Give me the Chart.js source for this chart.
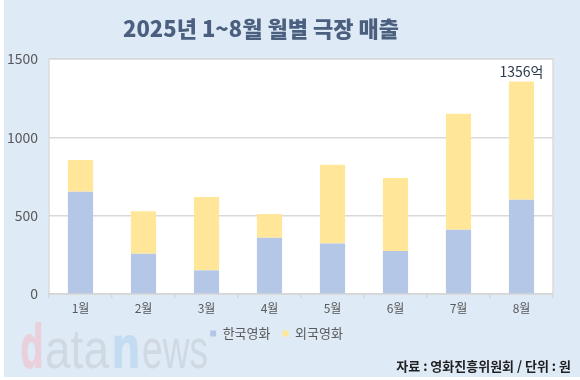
<!DOCTYPE html>
<html>
<head>
<meta charset="utf-8">
<script src="https://cdn.jsdelivr.net/npm/chart.js@4/dist/chart.umd.min.js"></script>
<style>
  html, body { margin: 0; padding: 0; background: #ffffff; }
  #wrap { width: 580px; height: 380px; position: relative; }
</style>
</head>
<body>
<div id="wrap"><canvas id="c" width="580" height="380"></canvas></div>
<script>
// ---- data ----
const categories = ['1월', '2월', '3월', '4월', '5월', '6월', '7월', '8월'];
const koreanFilm = [653, 257, 151, 359, 323, 274, 410, 602];
const foreignFilm = [202, 271, 468, 151, 502, 466, 741, 754];
const seriesNames = ['한국영화', '외국영화'];
const yTicks = [0, 500, 1000, 1500];
const titleText = '2025년 1~8월 월별 극장 매출';
const sourceText = '자료 : 영화진흥위원회 / 단위 : 원';
const annotUnit = '억';

const KR = '"Noto Sans CJK KR", "Noto Sans", sans-serif';
const BG = '#deeaf6';

function fitText(ctx, text, x, w, baseline, font, color) {
  ctx.save();
  ctx.font = font;
  ctx.fillStyle = color;
  ctx.textAlign = 'left';
  ctx.textBaseline = 'alphabetic';
  const mw = ctx.measureText(text).width;
  ctx.translate(x, baseline);
  ctx.scale(w / mw, 1);
  ctx.fillText(text, 0, 0);
  ctx.restore();
}

const decor = {
  id: 'decor',
  beforeDraw(chart) {
    const ctx = chart.ctx;
    const a = chart.chartArea;
    ctx.save();
    ctx.fillStyle = BG;
    ctx.fillRect(4, 0, 576, 377);
    ctx.fillStyle = '#ffffff';
    ctx.fillRect(a.left, a.top, a.right - a.left, a.bottom - a.top);
    ctx.strokeStyle = '#dcdcdc';
    ctx.lineWidth = 1.5;
    ctx.strokeRect(a.left, a.top, a.right - a.left, a.bottom - a.top);
    // title
    ctx.font = '900 22px ' + KR;
    ctx.fillStyle = '#4b5f7f';
    ctx.textAlign = 'center';
    ctx.textBaseline = 'middle';
    ctx.fillText(titleText, 261, 29);
    // watermark
    fitText(ctx, 'd', 20, 24, 368, 'bold 60px "DejaVu Sans", sans-serif', '#e9d0da');
    fitText(ctx, 'ata', 45, 64, 368, '56px "Liberation Sans", Arial, sans-serif', '#d0d8e2');
    fitText(ctx, 'n', 111, 30, 368, 'bold 58px "DejaVu Sans", sans-serif', '#c4dcf1');
    fitText(ctx, 'ews', 142, 66, 368, '56px "Liberation Sans", Arial, sans-serif', '#d0d8e2');
    // source
    ctx.font = 'bold 13px ' + KR;
    ctx.fillStyle = '#1f1f1f';
    ctx.textAlign = 'right';
    ctx.textBaseline = 'middle';
    ctx.fillText(sourceText, 571, 366);
    ctx.restore();
  },
  afterDatasetsDraw(chart) {
    const ctx = chart.ctx;
    const last = categories.length - 1;
    const total = koreanFilm[last] + foreignFilm[last];
    const x = chart.scales.x.getPixelForValue(last);
    const y = chart.scales.y.getPixelForValue(total);
    ctx.save();
    ctx.font = '14px ' + KR;
    ctx.fillStyle = '#2e3a4f';
    ctx.textAlign = 'center';
    ctx.textBaseline = 'middle';
    ctx.fillText(total + annotUnit, x, y - 10);
    ctx.restore();
  }
};

new Chart(document.getElementById('c'), {
  type: 'bar',
  data: {
    labels: categories,
    datasets: [
      { label: seriesNames[0], data: koreanFilm, backgroundColor: '#b4c7e7', borderWidth: 0 },
      { label: seriesNames[1], data: foreignFilm, backgroundColor: '#ffe699', borderWidth: 0 }
    ]
  },
  options: {
    responsive: false,
    animation: false,
    layout: { padding: { top: 59, right: 27, bottom: 30, left: 0 } },
    datasets: { bar: { barPercentage: 1, categoryPercentage: 0.4 } },
    scales: {
      x: {
        stacked: true,
        grid: { drawOnChartArea: false, color: '#d6d6d6', tickLength: 4, offset: true, lineWidth: 1.5 },
        border: { display: true, color: '#d6d6d6', width: 1.5 },
        ticks: { color: '#595959', font: { family: KR, size: 12 }, padding: 3 },
        afterFit(s) { s.height = 21; }
      },
      y: {
        stacked: true,
        min: 0, max: 1500,
        afterBuildTicks(s) { s.ticks = yTicks.map(v => ({ value: v })); },
        grid: { color: '#d9d9d9', lineWidth: 1.5, drawTicks: false },
        border: { display: false },
        ticks: { color: '#595959', font: { family: KR, size: 14 }, padding: 11, callback: v => String(v) },
        afterFit(s) { s.width = 49; }
      }
    },
    plugins: {
      title: { display: false },
      tooltip: { enabled: false },
      legend: {
        position: 'bottom',
        labels: {
          boxWidth: 6, boxHeight: 6, padding: 12,
          color: '#595959',
          font: { family: KR, size: 13 }
        }
      }
    }
  },
  plugins: [decor]
});
</script>
</body>
</html>
